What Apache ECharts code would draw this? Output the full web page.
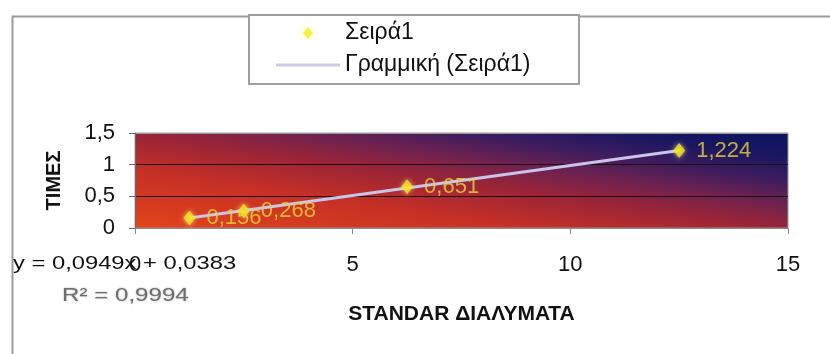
<!DOCTYPE html>
<html>
<head>
<meta charset="utf-8">
<script src="https://cdn.jsdelivr.net/npm/echarts@6/dist/echarts.min.js"></script>
<style>
  html, body { margin: 0; padding: 0; background: #fff; }
  #chart { width: 830px; height: 354px; }
</style>
</head>
<body>
<div id="chart"></div>
<script>
// Standard solutions (x) and measured values (y)
const seriesName = 'Σειρά1';
const trendName = 'Γραμμική (Σειρά1)';
const xValues = [1.25, 2.5, 6.25, 12.5];
const yValues = [0.156, 0.268, 0.651, 1.224];

// Linear trendline end points, y = 0,0949x + 0,0383
const trendX = [1.25, 12.5];
const trendY = [0.157, 1.225];

const equationText = 'y = 0,0949x + 0,0383';
const r2Text = 'R² = 0,9994';
const xAxisTitle = 'STANDAR ΔΙΑΛΥΜΑΤΑ';
const yAxisTitle = 'ΤΙΜΕΣ';

const comma = v => String(v).replace('.', ',');
const font = 'Liberation Sans, Arial, sans-serif';

// plot rectangle
const G = { left: 135, right: 42, top: 133, bottom: 126 };
const W = 830, H = 354;
const px0 = G.left, px1 = W - G.right, py0 = G.top, py1 = H - G.bottom;

// diagonal background: orange-red at bottom-left, navy at top-right,
// with the iso-colour lines running along the top-left/bottom-right diagonal
const cx = (px0 + px1) / 2, cy = (py0 + py1) / 2;
const dw = px1 - px0, dh = py1 - py0;
const len = Math.hypot(dw, dh);
const nx = dh / len, ny = -dw / len;
const half = (dw / 2) * nx + (-dh / 2) * ny;

const chart = echarts.init(document.getElementById('chart'));

chart.setOption({
  animation: false,
  textStyle: { fontFamily: font },
  grid: {
    left: G.left, right: G.right, top: G.top, bottom: G.bottom,
    show: true,
    borderColor: '#9a9a9a',
    borderWidth: 1,
    backgroundColor: {
      type: 'linear', global: true,
      x: cx - half * nx, y: cy - half * ny,
      x2: cx + half * nx, y2: cy + half * ny,
      colorStops: [
        { offset: 0, color: '#e2441a' },
        { offset: 0.3, color: '#c63026' },
        { offset: 0.5, color: '#982438' },
        { offset: 0.62, color: '#702250' },
        { offset: 0.75, color: '#3c1c5e' },
        { offset: 0.88, color: '#181662' },
        { offset: 1, color: '#0c1460' }
      ]
    }
  },
  legend: {
    orient: 'vertical',
    left: 276, top: 20,
    padding: 0,
    itemGap: 6,
    itemWidth: 64, itemHeight: 12,
    symbolKeepAspect: true,
    textStyle: { fontSize: 23, color: '#111', fontFamily: font, lineHeight: 26 },
    data: [
      { name: seriesName, icon: 'path://M5,0 L10,6 L5,12 L0,6 Z',
        itemStyle: { color: '#f4ec1a', shadowColor: 'rgba(255,255,120,0.9)', shadowBlur: 6 } },
      { name: trendName, icon: 'path://M0,0 L64,0 L64,3 L0,3 Z',
        itemStyle: { color: '#cfcbe6' } }
    ]
  },
  xAxis: {
    type: 'value', min: 0, max: 15, interval: 5,
    name: xAxisTitle, nameLocation: 'middle', nameGap: 76,
    nameTextStyle: { fontSize: 21, fontWeight: 'bold', color: '#111', fontFamily: font },
    axisLine: { show: true, lineStyle: { color: '#8a8a8a', width: 1 } },
    axisTick: { show: true, length: 6, lineStyle: { color: '#8a8a8a' } },
    axisLabel: { fontSize: 22, color: '#111', margin: 26, fontFamily: font },
    splitLine: { show: false }
  },
  yAxis: {
    type: 'value', min: 0, max: 1.5, interval: 0.5,
    name: yAxisTitle, nameLocation: 'middle', nameGap: 71, nameRotate: 90,
    nameTextStyle: { fontSize: 20, fontWeight: 'bold', color: '#111', fontFamily: font },
    axisLine: { show: true, lineStyle: { color: '#6a6a6a', width: 1 } },
    axisTick: { show: true, length: 6, lineStyle: { color: '#6a6a6a' } },
    axisLabel: { fontSize: 22, color: '#111', margin: 20, fontFamily: font, formatter: comma },
    splitLine: { show: true, lineStyle: { color: ['#9a9a9a', '#1c1010', '#1c1010', '#9a9a9a'], width: 1 } }
  },
  graphic: [
    // chart area frame
    { type: 'rect', left: 10, top: 14, shape: { width: 840, height: 360 },
      style: { fill: 'none', stroke: '#9c9c9c', lineWidth: 2 }, z: -10, silent: true },
    // legend frame
    { type: 'rect', left: 248, top: 14, shape: { width: 330, height: 69 },
      style: { fill: '#fff', stroke: '#a0a0a0', lineWidth: 2 }, z: -5, silent: true },
    // trendline equation and R²
    { type: 'text', x: 13, y: 264, scaleX: 1.25, z: 100,
      style: { text: equationText, fontSize: 19, fill: '#111', fontFamily: font, verticalAlign: 'middle' } },
    { type: 'text', x: 62, y: 296, scaleX: 1.27, z: 100,
      style: { text: r2Text, fontSize: 19, fill: '#6e6e6e', fontFamily: font, verticalAlign: 'middle',
               textShadowColor: 'rgba(110,110,110,0.6)', textShadowBlur: 2 } }
  ],
  series: [
    {
      name: trendName,
      type: 'line',
      symbol: 'none',
      z: 2,
      lineStyle: { color: '#cac4ea', width: 3 },
      itemStyle: { color: '#cac4ea' },
      data: trendX.map((x, i) => [x, trendY[i]])
    },
    {
      name: seriesName,
      type: 'scatter',
      symbol: 'diamond',
      symbolSize: [12, 15],
      z: 3,
      itemStyle: {
        color: '#f4e41e',
        shadowColor: 'rgba(255,250,140,0.9)',
        shadowBlur: 5
      },
      label: {
        show: true,
        position: 'right',
        distance: 11,
        fontSize: 22,
        color: '#e9d63c',
        fontFamily: font,
        formatter: p => comma(p.value[1])
      },
      data: xValues.map((x, i) => [x, yValues[i]])
    }
  ]
});
</script>
</body>
</html>
